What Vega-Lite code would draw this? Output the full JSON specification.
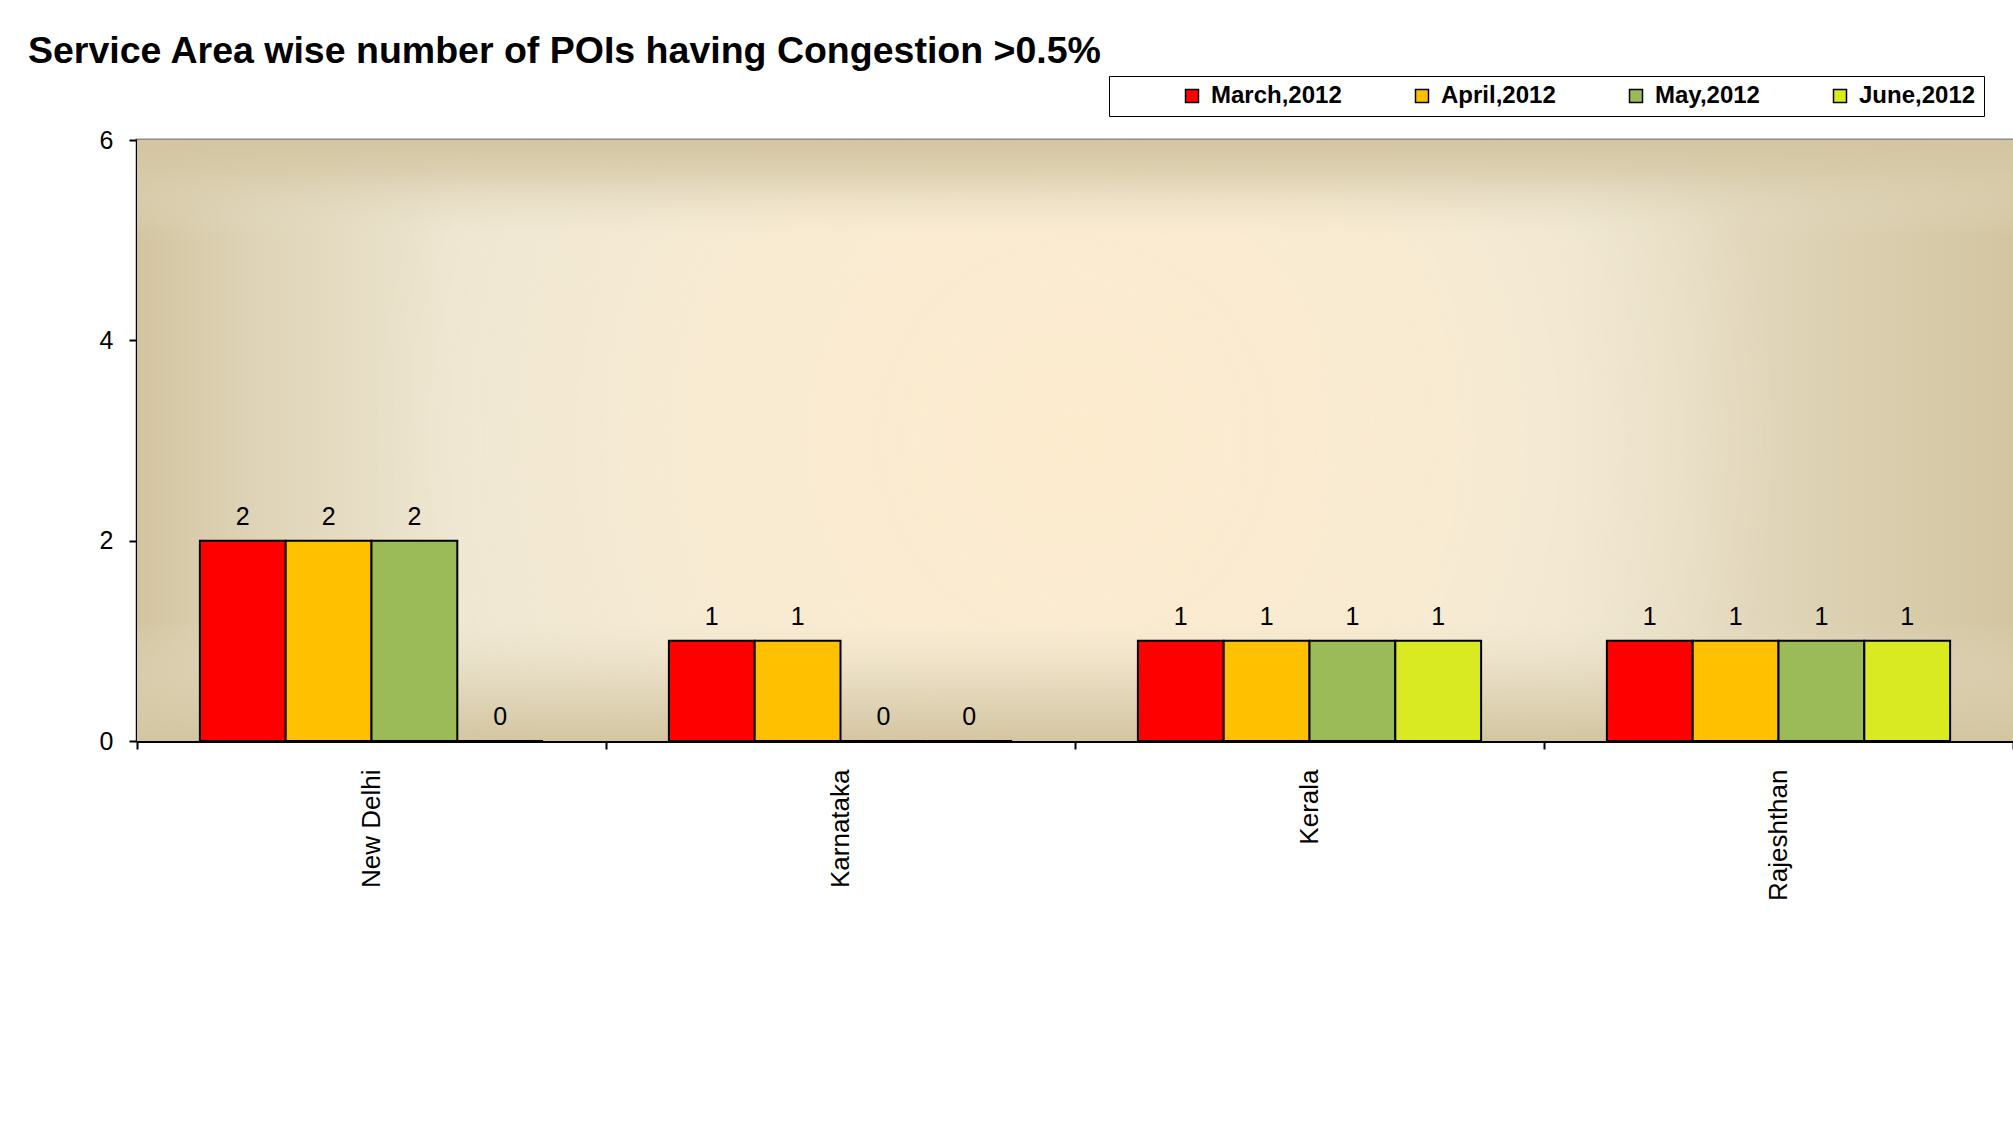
{
  "$schema": "https://vega.github.io/schema/vega-lite/v6.json",
  "autosize": "none",
  "width": 1876,
  "height": 601,
  "padding": {"left": 137, "top": 140, "right": 0, "bottom": 395},
  "background": "white",
  "title": {
    "text": "Service Area wise  number of POIs having Congestion >0.5%",
    "anchor": "start",
    "frame": "group",
    "font": "Liberation Sans",
    "fontSize": 37.5,
    "fontWeight": "bold",
    "color": "black",
    "baseline": "alphabetic",
    "dx": -109,
    "dy": 43,
    "offset": 18
  },
  "config": {
    "view": {"stroke": "#8C8C8C", "strokeWidth": 3},
    "axis": {"labelFont": "Liberation Sans", "labelColor": "black", "domainColor": "black", "tickColor": "black", "grid": false, "title": null}
  },
  "data": {
    "values": [
      {"area": "New Delhi", "month": "March,2012", "value": 2},
      {"area": "New Delhi", "month": "April,2012", "value": 2},
      {"area": "New Delhi", "month": "May,2012", "value": 2},
      {"area": "New Delhi", "month": "June,2012", "value": 0},
      {"area": "Karnataka", "month": "March,2012", "value": 1},
      {"area": "Karnataka", "month": "April,2012", "value": 1},
      {"area": "Karnataka", "month": "May,2012", "value": 0},
      {"area": "Karnataka", "month": "June,2012", "value": 0},
      {"area": "Kerala", "month": "March,2012", "value": 1},
      {"area": "Kerala", "month": "April,2012", "value": 1},
      {"area": "Kerala", "month": "May,2012", "value": 1},
      {"area": "Kerala", "month": "June,2012", "value": 1},
      {"area": "Rajeshthan", "month": "March,2012", "value": 1},
      {"area": "Rajeshthan", "month": "April,2012", "value": 1},
      {"area": "Rajeshthan", "month": "May,2012", "value": 1},
      {"area": "Rajeshthan", "month": "June,2012", "value": 1}
    ]
  },
  "layer": [
    {
      "data": {"values": [{}]},
      "mark": {
        "type": "rect",
        "fill": {
          "gradient": "linear", "x1": 0, "y1": 0, "x2": 1, "y2": 0,
          "stops": [
            {"offset": 0, "color": "#D3C5A1"},
            {"offset": 0.06, "color": "#DED3B6"},
            {"offset": 0.17, "color": "#EEE6D1"},
            {"offset": 0.5, "color": "#F3EAD5"},
            {"offset": 0.76, "color": "#EEE6D1"},
            {"offset": 0.9, "color": "#DDD1B3"},
            {"offset": 1, "color": "#D3C5A1"}
          ]
        }
      },
      "encoding": {}
    },
    {
      "data": {"values": [{}]},
      "mark": {
        "type": "rect",
        "fill": {
          "gradient": "radial", "x1": 0.5, "y1": 0.5, "r1": 0, "x2": 0.5, "y2": 0.5, "r2": 0.5,
          "stops": [
            {"offset": 0, "color": "rgba(253,235,206,1)"},
            {"offset": 0.4, "color": "rgba(251,236,210,0.75)"},
            {"offset": 0.75, "color": "rgba(245,236,216,0)"},
            {"offset": 1, "color": "rgba(245,236,216,0)"}
          ]
        }
      },
      "encoding": {}
    },
    {
      "data": {"values": [{}]},
      "mark": {
        "type": "rect",
        "fill": {
          "gradient": "linear", "x1": 0, "y1": 0, "x2": 0, "y2": 1,
          "stops": [
            {"offset": 0, "color": "rgba(211,197,161,1)"},
            {"offset": 0.05, "color": "rgba(214,201,167,0.8)"},
            {"offset": 0.16, "color": "rgba(230,222,200,0)"},
            {"offset": 0.8, "color": "rgba(230,222,200,0)"},
            {"offset": 0.92, "color": "rgba(218,206,174,0.7)"},
            {"offset": 1, "color": "rgba(211,197,161,1)"}
          ]
        }
      },
      "encoding": {}
    },
    {
      "mark": {"type": "bar", "stroke": "black", "strokeWidth": 2},
      "encoding": {
        "x": {
          "field": "area", "type": "nominal",
          "sort": ["New Delhi", "Karnataka", "Kerala", "Rajeshthan"],
          "scale": {"paddingInner": 0, "paddingOuter": 0},
          "axis": {
            "labelAngle": -90, "labelFontSize": 26, "labelPadding": 20,
            "tickBand": "extent", "tickSize": 8, "tickWidth": 2, "domainWidth": 3
          }
        },
        "xOffset": {
          "field": "month", "type": "nominal",
          "sort": ["March,2012", "April,2012", "May,2012", "June,2012"],
          "scale": {"paddingInner": 0, "paddingOuter": 0.733}
        },
        "y": {
          "field": "value", "type": "quantitative",
          "scale": {"domain": [0, 6], "nice": false},
          "axis": {
            "values": [0, 2, 4, 6], "format": "d", "labelFontSize": 25, "labelPadding": 16,
            "tickSize": 8, "tickWidth": 2, "domainWidth": 3
          }
        },
        "fill": {
          "field": "month", "type": "nominal",
          "sort": ["March,2012", "April,2012", "May,2012", "June,2012"],
          "scale": {
            "domain": ["March,2012", "April,2012", "May,2012", "June,2012"],
            "range": ["#FF0000", "#FFC000", "#9BBB59", "#D9EA22"]
          },
          "legend": {
            "orient": "none", "legendX": 972, "legendY": -64,
            "direction": "horizontal", "columns": 4,
            "title": " ", "titleOrient": "left", "titlePadding": 63, "titleFontSize": 24,
            "padding": 8, "fillColor": "white", "strokeColor": "black",
            "symbolType": "square", "symbolSize": 169, "symbolStrokeColor": "black",
            "symbolStrokeWidth": 1.5, "symbolOpacity": 1,
            "labelFont": "Liberation Sans", "labelFontSize": 24, "labelFontWeight": "bold",
            "labelColor": "black", "labelOffset": 7, "columnPadding": 68, "labelLimit": 400,
            "labelExpr": "datum.label == 'June,2012' ? datum.label + '\u00a0\u00a0\u00a0\u00a0\u00a0\u00a0\u00a0\u00a0\u00a0\u00a0\u00a0\u00a0' : datum.label"
          }
        }
      }
    },
    {
      "mark": {"type": "text", "font": "Liberation Sans", "fontSize": 25, "color": "black", "baseline": "alphabetic", "dy": -16},
      "encoding": {
        "x": {"field": "area", "type": "nominal", "sort": ["New Delhi", "Karnataka", "Kerala", "Rajeshthan"]},
        "xOffset": {"field": "month", "type": "nominal", "sort": ["March,2012", "April,2012", "May,2012", "June,2012"]},
        "y": {"field": "value", "type": "quantitative"},
        "text": {"field": "value", "type": "quantitative"}
      }
    }
  ]
}
